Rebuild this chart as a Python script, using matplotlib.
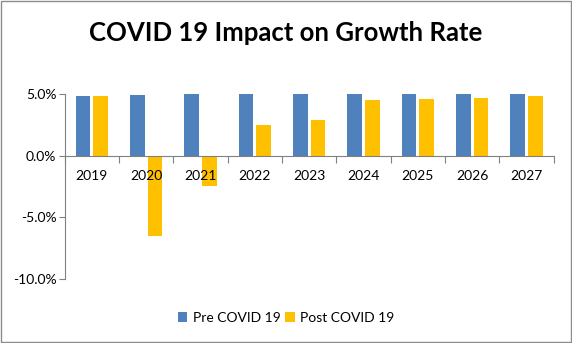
import numpy as np
import matplotlib.pyplot as plt
from matplotlib.patches import Rectangle

plt.rcParams['font.family'] = ['Lato', 'DejaVu Sans']

# growth rate data (%)
years = ['2019', '2020', '2021', '2022', '2023', '2024', '2025', '2026', '2027']
pre_covid = [4.85, 4.9, 5.0, 5.0, 5.0, 5.0, 5.0, 5.0, 5.0]
post_covid = [4.85, -6.5, -2.5, 2.5, 2.9, 4.55, 4.6, 4.7, 4.85]

BLUE = '#4F81BD'
GOLD = '#FFC000'

fig = plt.figure(figsize=(5.72, 3.43), dpi=100)
ax = fig.add_axes([0.113, 0.187, 0.855, 0.539])

x = np.arange(len(years))
w = 0.27
ax.bar(x - 0.165, pre_covid, w, color=BLUE, label='Pre COVID 19')
ax.bar(x + 0.165, post_covid, w, color=GOLD, label='Post COVID 19')

ax.set_xlim(-0.5, len(years) - 0.5)
ax.set_ylim(-10, 5)
ax.set_yticks([-10, -5, 0, 5])
ax.set_yticklabels(['-10.0%', '-5.0%', '0.0%', '5.0%'], fontsize=10)

# category axis sits on the zero line
ax.spines['bottom'].set_position(('data', 0))
ax.spines['top'].set_visible(False)
ax.spines['right'].set_visible(False)
for s in ('bottom', 'left'):
    ax.spines[s].set_color('#808080')
ax.set_xticks(np.arange(len(years) + 1) - 0.5, minor=False)
ax.set_xticklabels([])
ax.tick_params(axis='x', length=5, color='#808080', direction='out')
ax.tick_params(axis='y', length=4, color='#808080', labelsize=10, pad=2)
for i, yr in enumerate(years):
    ax.text(i, -1.2, yr, ha='center', va='top', fontsize=10)

fig.text(0.5, 0.905, 'COVID 19 Impact on Growth Rate', ha='center', va='center',
         fontsize=18.5, fontweight='bold')

fig.legend(*ax.get_legend_handles_labels(), loc='center', bbox_to_anchor=(0.5, 0.073),
           ncol=2, frameon=False, fontsize=10, handlelength=0.7, handleheight=0.7,
           handletextpad=0.4, columnspacing=0.3)

# outer chart border
fig.patches.append(Rectangle((0.001, 0.002), 0.997, 0.995, transform=fig.transFigure,
                             fill=False, edgecolor='#8c8c8c', linewidth=1))

fig.savefig('out.png', dpi=100)
